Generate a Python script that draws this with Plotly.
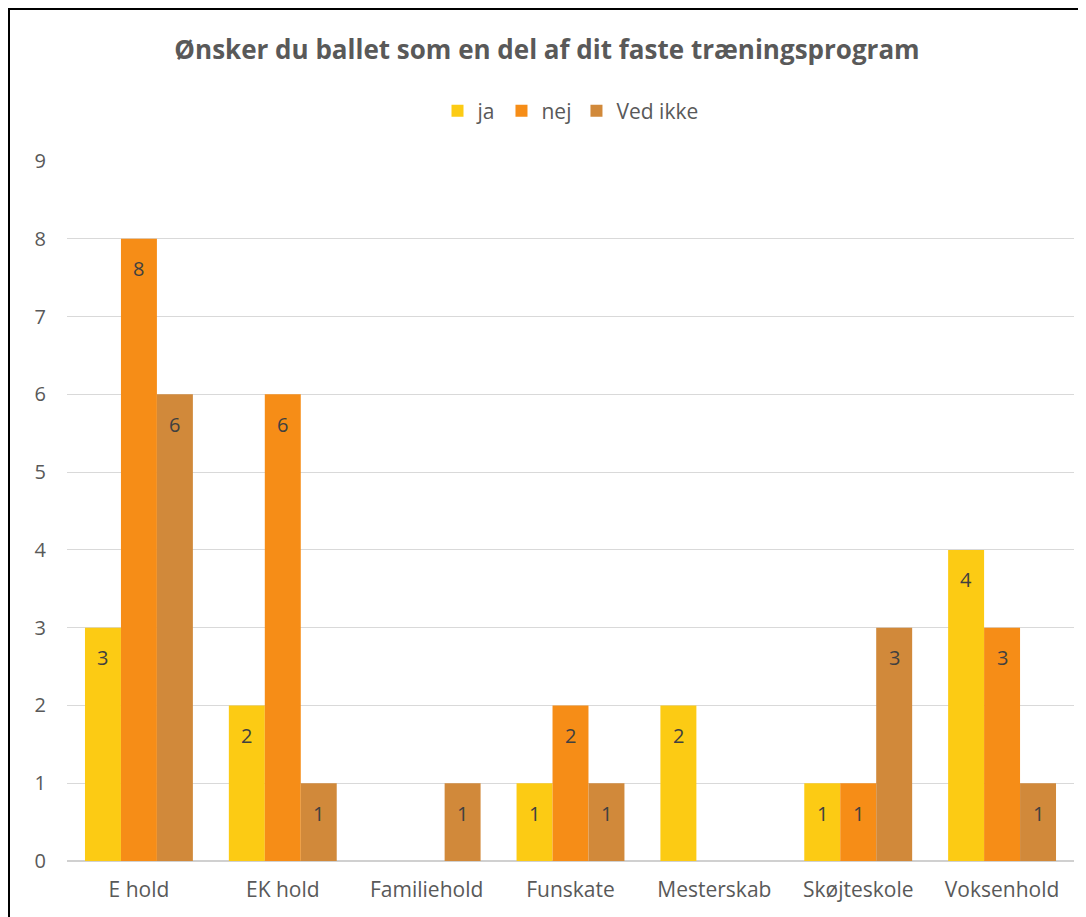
import plotly.graph_objects as go

categories = ["E hold", "EK hold", "Familiehold", "Funskate", "Mesterskab", "Skøjteskole", "Voksenhold"]
ja = [3, 2, 0, 1, 2, 1, 4]
nej = [8, 6, 0, 2, 0, 1, 3]
ved_ikke = [6, 1, 1, 1, 0, 3, 1]
series = [("ja", ja, "#FCCB14"), ("nej", nej, "#F68D17"), ("Ved ikke", ved_ikke, "#D1893A")]
y_ticks = list(range(0, 10))

# page body has an 8px margin; figure pixel = screenshot pixel - 8
OFF = 8
W, H = 1086 - OFF, 917 - OFF
L = 67 - OFF
T = 161 - OFF
plot_bottom = 861 - OFF
plot_right = 1074 - OFF
R = W - plot_right
B = H - plot_bottom
pw, ph = W - L - R, H - T - B
BARGAP = 0.25
bar_px = pw / len(categories) * (1 - BARGAP) / len(series)

FONT = "Open Sans"

fig = go.Figure()
annotations = []
for i, (name, vals, col) in enumerate(series):
    fig.add_trace(go.Bar(
        x=categories, y=vals, name=name,
        marker=dict(color=col, line=dict(width=0)),
    ))
    for cat, v in zip(categories, vals):
        if v:
            annotations.append(dict(
                x=cat, y=v, xref="x", yref="y", text=str(v), showarrow=False,
                xshift=(i - 1) * bar_px, yshift=-30, xanchor="center", yanchor="middle",
                font=dict(size=20, color="#404040", family=FONT)))

def px_x(p):
    return (p - OFF - L) / pw

def px_y(p):
    return (plot_bottom - (p - OFF)) / ph

fig.update_layout(
    width=W, height=H,
    margin=dict(l=L, r=R, t=T, b=B),
    paper_bgcolor="white", plot_bgcolor="white",
    barmode="group", bargap=BARGAP, bargroupgap=0,
    font=dict(family=FONT, color="#595959", size=20),
    title=dict(text="<b>Ønsker du ballet som en del af dit faste træningsprogram</b>",
               x=0.5, xanchor="center", y=1 - (50 - OFF) / H, yanchor="middle",
               font=dict(size=26, color="#595959", family=FONT)),
    legend=dict(orientation="h", x=0.5, xanchor="center", y=px_y(111), yanchor="middle",
                font=dict(size=21, color="#595959"), traceorder="normal"),
    xaxis=dict(showgrid=False, showline=False, ticks="", ticklabelstandoff=14,
               tickfont=dict(size=21, color="#595959")),
    yaxis=dict(range=[0, 9], tickvals=y_ticks, showgrid=True, gridcolor="#D9D9D9", gridwidth=1,
               zeroline=True, zerolinecolor="#D0D0D0", zerolinewidth=2,
               ticks="", ticklabelstandoff=20, tickfont=dict(size=20, color="#595959")),
    annotations=annotations,
    shapes=[dict(type="rect", xref="paper", yref="paper",
                 x0=px_x(9), x1=px_x(1086 + 20), y0=px_y(917 + 20), y1=px_y(9),
                 line=dict(color="black", width=2), fillcolor="rgba(0,0,0,0)", layer="above")],
)

fig.write_html("out.html")
